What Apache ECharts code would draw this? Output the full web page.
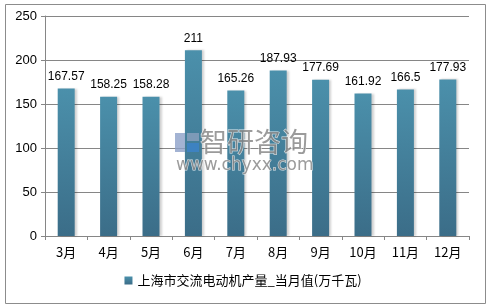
<!DOCTYPE html>
<html>
<head>
<meta charset="utf-8">
<script src="https://cdn.jsdelivr.net/npm/echarts@6/dist/echarts.min.js"></script>
<style>html,body{margin:0;padding:0;background:#fff}#c{width:486px;height:306px}</style>
</head>
<body>
<div id="c"></div>
<script>
const categories = ['3月','4月','5月','6月','7月','8月','9月','10月','11月','12月'];
const values = [167.57, 158.25, 158.28, 211, 165.26, 187.93, 177.69, 161.92, 166.5, 177.93];
const seriesName = '上海市交流电动机产量_当月值(万千瓦)';
const yTicks = [0, 50, 100, 150, 200, 250];

const chart = echarts.init(document.getElementById('c'), null, {renderer: 'canvas'});
const latin = 'Liberation Sans, Noto Sans CJK SC, sans-serif';
const cjk = 'Noto Sans CJK SC, Liberation Sans, sans-serif';
const wm = 'rgba(130,130,130,0.8)';
chart.setOption({
  animation: false,
  backgroundColor: '#fff',
  grid: {left: 45, right: 17, top: 16, bottom: 70, containLabel: false},
  legend: {
    data: [seriesName], bottom: 14, left: 'center',
    itemWidth: 8, itemHeight: 8, itemGap: 4,
    icon: 'rect',
    textStyle: {fontSize: 13, color: '#000', fontFamily: cjk}
  },
  xAxis: {
    type: 'category', data: categories,
    axisLine: {lineStyle: {color: '#868686', width: 1}},
    axisTick: {show: true, alignWithLabel: false, length: 4, inside: false, lineStyle: {color: '#868686'}},
    axisLabel: {fontSize: 13, color: '#000', margin: 10, fontFamily: cjk}
  },
  yAxis: {
    type: 'value', min: yTicks[0], max: yTicks[yTicks.length - 1], interval: 50,
    axisLine: {show: true, lineStyle: {color: '#868686'}},
    axisTick: {show: true, length: 4, lineStyle: {color: '#868686'}},
    axisLabel: {fontSize: 13, color: '#000', margin: 8, fontFamily: latin},
    splitLine: {lineStyle: {color: '#868686', width: 1}}
  },
  series: [{
    name: seriesName, type: 'bar', data: values, barWidth: 17,
    itemStyle: {
      color: new echarts.graphic.LinearGradient(0, 0, 0, 1, [
        {offset: 0, color: '#4b90ab'},
        {offset: 1, color: '#3b6d88'}
      ]),
      shadowColor: 'rgba(0,0,0,0.18)', shadowBlur: 2, shadowOffsetX: 2
    },
    label: {show: true, position: 'top', distance: 6, fontSize: 12, color: '#000', fontFamily: latin}
  }],
  graphic: [
    {type: 'rect', left: 3, top: 2, shape: {width: 480, height: 299}, style: {fill: 'none', stroke: '#8c8c8c', lineWidth: 1}, silent: true, z: 100},
    {type: 'rect', z: 100, silent: true, shape: {x: 175, y: 133, width: 10, height: 19}, style: {fill: 'rgba(140,160,200,0.8)'}},
    {type: 'rect', z: 100, silent: true, shape: {x: 187, y: 133, width: 12, height: 8}, style: {fill: 'rgba(150,165,195,0.7)'}},
    {type: 'rect', z: 100, silent: true, shape: {x: 187, y: 143, width: 12, height: 9}, style: {fill: 'rgba(60,130,200,0.85)'}},
    {type: 'text', z: 100, silent: true, style: {x: 200, y: 128, text: '智研咨询', fontSize: 27, fontFamily: cjk, fill: wm, stroke: 'rgba(255,255,255,0.8)', lineWidth: 1}},
    {type: 'text', z: 100, silent: true, style: {x: 176, y: 157, text: 'www.chyxx.com', fontSize: 17, fontFamily: 'DejaVu Sans, sans-serif', fill: wm, stroke: 'rgba(255,255,255,0.8)', lineWidth: 1}}
  ]
});
</script>
</body>
</html>
